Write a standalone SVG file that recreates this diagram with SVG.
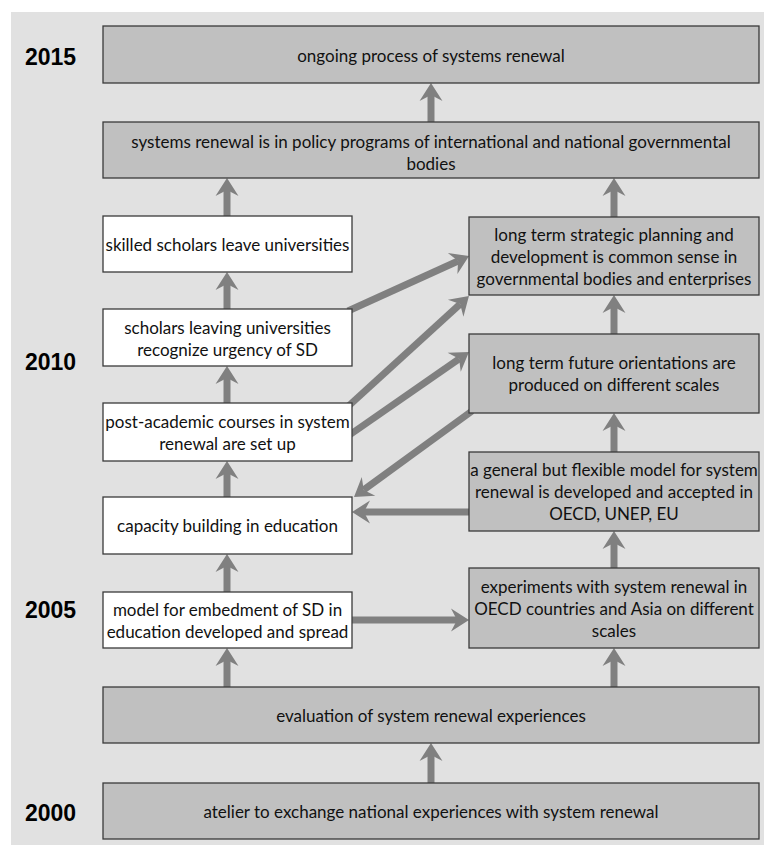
<svg xmlns="http://www.w3.org/2000/svg" width="764" height="845" viewBox="0 0 764 845">
<style>
.bg{fill:#e1e1e1}
.g rect{fill:#c0c0c0;stroke:#3a3a3a;stroke-width:1.3}
.w rect{fill:#ffffff;stroke:#3a3a3a;stroke-width:1.3}
text{font-family:Lato,"Liberation Sans",sans-serif;font-size:17px;fill:#111;text-anchor:middle;dominant-baseline:central}
.yr{font-family:"Liberation Sans",Arial,sans-serif;font-weight:bold;font-size:23px;fill:#000;text-anchor:start}
.c line{stroke:#808080;stroke-width:7;marker-end:url(#ah)}
</style>
<defs>
<marker id="ah" markerUnits="userSpaceOnUse" viewBox="-8 -13 22 26" refX="0" refY="0" markerWidth="22" markerHeight="26" orient="auto" overflow="visible">
<path d="M12,0 L-6,-11.5 L0,0 L-6,11.5 Z" fill="#808080"/>
</marker>
</defs>
<rect class="bg" x="11" y="12" width="753" height="833"/>
<g id="years">
<text class="yr" x="25" y="57">2015</text>
<text class="yr" x="25" y="362">2010</text>
<text class="yr" x="25" y="610">2005</text>
<text class="yr" x="25" y="813">2000</text>
</g>
<g id="connectors" class="c">
<line x1="431" y1="124" x2="431" y2="95"/>
<line x1="227" y1="218" x2="227" y2="190"/>
<line x1="614" y1="219" x2="614" y2="190"/>
<line x1="227" y1="311" x2="227" y2="284"/>
<line x1="227" y1="405" x2="227" y2="378"/>
<line x1="227" y1="499" x2="227" y2="473"/>
<line x1="227" y1="594" x2="227" y2="566"/>
<line x1="227" y1="689" x2="227" y2="660"/>
<line x1="614" y1="689" x2="614" y2="660"/>
<line x1="431" y1="785" x2="431" y2="755"/>
<line x1="614" y1="570" x2="614" y2="543"/>
<line x1="614" y1="454" x2="614" y2="425"/>
<line x1="614" y1="336" x2="614" y2="307"/>
<line x1="350" y1="620" x2="457" y2="620"/>
<line x1="471" y1="512" x2="364" y2="512"/>
<line x1="348" y1="311" x2="458.1" y2="261"/>
<line x1="348" y1="406.5" x2="460.1" y2="304.1"/>
<line x1="348" y1="436" x2="459.1" y2="358.8"/>
<line x1="472" y1="411" x2="363.7" y2="489.9"/>
</g>
<g id="n2015" class="g"><rect x="103" y="26" width="656" height="57"/><text x="431" y="55">ongoing process of systems renewal</text></g>
<g id="npolicy" class="g"><rect x="103" y="122" width="656" height="56"/><text x="431" y="141">systems renewal is in policy programs of international and national governmental</text><text x="431" y="163">bodies</text></g>
<g id="nskilled" class="w"><rect x="103" y="216" width="249" height="56"/><text x="227.5" y="244">skilled scholars leave universities</text></g>
<g id="nscholars" class="w"><rect x="103" y="309" width="249" height="57"/><text x="227.5" y="327">scholars leaving universities</text><text x="227.5" y="349">recognize urgency of SD</text></g>
<g id="npost" class="w"><rect x="103" y="403" width="249" height="58"/><text x="227.5" y="421">post-academic courses in system</text><text x="227.5" y="443">renewal are set up</text></g>
<g id="ncapacity" class="w"><rect x="103" y="497" width="249" height="57"/><text x="227.5" y="525.5">capacity building in education</text></g>
<g id="nmodel" class="w"><rect x="103" y="592" width="249" height="56"/><text x="227.5" y="609">model for embedment of SD in</text><text x="227.5" y="631">education developed and spread</text></g>
<g id="nstrategic" class="g"><rect x="469" y="217" width="290" height="78"/><text x="614" y="234">long term strategic planning and</text><text x="614" y="256">development is common sense in</text><text x="614" y="278">governmental bodies and enterprises</text></g>
<g id="nfuture" class="g"><rect x="469" y="334" width="290" height="79"/><text x="614" y="362.5">long term future orientations are</text><text x="614" y="384.5">produced on different scales</text></g>
<g id="ngeneral" class="g"><rect x="469" y="452" width="290" height="79"/><text x="614" y="469.5">a general but flexible model for system</text><text x="614" y="491.5">renewal is developed and accepted in</text><text x="614" y="513.5">OECD, UNEP, EU</text></g>
<g id="nexperiments" class="g"><rect x="469" y="568" width="290" height="80"/><text x="614" y="586">experiments with system renewal in</text><text x="614" y="608">OECD countries and Asia on different</text><text x="614" y="630">scales</text></g>
<g id="nevaluation" class="g"><rect x="103" y="687" width="656" height="56"/><text x="431" y="715">evaluation of system renewal experiences</text></g>
<g id="natelier" class="g"><rect x="103" y="783" width="656" height="56"/><text x="431" y="811">atelier to exchange national experiences with system renewal</text></g>
</svg>
